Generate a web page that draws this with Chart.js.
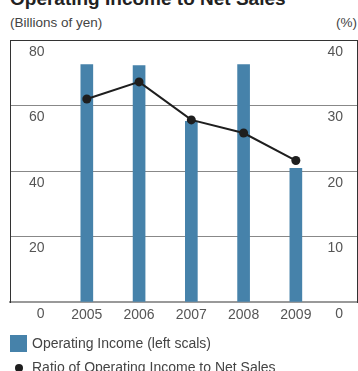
<!DOCTYPE html>
<html>
<head>
<meta charset="utf-8">
<script src="https://cdn.jsdelivr.net/npm/chart.js@4.4.1/dist/chart.umd.min.js"></script>
<style>
  html, body { margin: 0; padding: 0; background: #fff; }
  #wrap { position: relative; width: 358px; height: 371px; overflow: hidden; font-family: "Liberation Sans", Arial, sans-serif; color: #444; }
  #incomeChart { position: absolute; left: 0; top: 0; }
  .title { position: absolute; left: 10px; top: -11px; font-size: 19px; line-height: 19px; font-weight: bold; color: #222; white-space: nowrap; }
  .unit { position: absolute; top: 15px; font-size: 13.5px; line-height: 16px; white-space: nowrap; }
  .unit.left { left: 10px; }
  .unit.right { right: 1px; }
  .legend { position: absolute; left: 10px; top: 335px; font-size: 14px; line-height: 17px; white-space: nowrap; }
  .legend .row { position: relative; height: 17px; padding-left: 22px; }
  .legend .row + .row { margin-top: 7px; }
  .legend .box { position: absolute; left: 0; top: 0; width: 17px; height: 17px; background: #4682aa; }
  .legend .dot { position: absolute; left: 5px; top: 5px; width: 8px; height: 8px; border-radius: 50%; background: #1e1e1e; }
</style>
</head>
<body>
<div id="wrap">
  <div class="title">Operating Income to Net Sales</div>
  <div class="unit left">(Billions of yen)</div>
  <div class="unit right">(%)</div>
  <canvas id="incomeChart" width="358" height="371"></canvas>
  <div class="legend">
    <div class="row"><span class="box"></span>Operating Income (left scals)</div>
    <div class="row"><span class="dot"></span>Ratio of Operating Income to Net Sales</div>
  </div>
</div>
<script>
const years = [2005, 2006, 2007, 2008, 2009];
const operatingIncome = [72.5, 72.2, 55.2, 72.5, 40.8];   // billions of yen
const incomeRatio = [31.0, 33.6, 27.8, 25.8, 21.6];       // %
const incomeTicks = [0, 20, 40, 60, 80];
const ratioTicks = [0, 10, 20, 30, 40];

const BAR = '#4682aa', LINE = '#1e1e1e', TXT = '#555';
const tickFont = { family: '"Liberation Sans", Arial, sans-serif', size: 14 };

const setTicks = list => scale => { scale.ticks = list.map(v => ({ value: v })); };
// value axes draw their labels inside the plot, so they take no room
const flatY = s => { s.width = 0; s.paddingTop = 0; s.paddingBottom = 0; };
const flatX = s => { s.height = 24; s.paddingLeft = 0; s.paddingRight = 0; };

const ctx = document.getElementById('incomeChart').getContext('2d');
new Chart(ctx, {
  data: {
    datasets: [
      { type: 'line', label: 'Ratio of Operating Income to Net Sales', yAxisID: 'y1', order: 0,
        data: years.map((yr, i) => ({ x: yr, y: incomeRatio[i] })),
        borderColor: LINE, borderWidth: 2, tension: 0,
        pointRadius: 4.5, pointBackgroundColor: LINE, pointBorderWidth: 0 },
      { type: 'bar', label: 'Operating Income (left scals)', yAxisID: 'y', order: 1,
        data: years.map((yr, i) => ({ x: yr, y: operatingIncome[i] })),
        backgroundColor: BAR, barThickness: 12 }
    ]
  },
  options: {
    responsive: false, animation: false, devicePixelRatio: 1,
    layout: { autoPadding: false, padding: { top: 40, left: 10, right: 1, bottom: 45 } },
    plugins: { legend: { display: false }, tooltip: { enabled: false } },
    scales: {
      x: {
        type: 'linear', min: 2003.53, max: 2010.17, offset: false,
        afterBuildTicks: setTicks(years),
        afterFit: flatX,
        grid: { display: false, drawTicks: false, offset: false },
        border: { color: '#999', width: 2 },
        ticks: { font: tickFont, color: TXT, padding: 5, callback: v => String(v) }
      },
      y: {
        position: 'left', min: 0, max: 80,
        afterBuildTicks: setTicks(incomeTicks),
        afterFit: flatY,
        grid: { drawTicks: false, lineWidth: 1,
          color: c => c.tick.value === 80 ? '#333' : (c.tick.value === 0 ? 'rgba(0,0,0,0)' : '#888') },
        border: { color: '#333', width: 1 },
        ticks: { mirror: true, crossAlign: 'far', labelOffset: 12, padding: 19, font: tickFont, color: TXT }
      },
      y1: {
        position: 'right', min: 0, max: 40,
        afterBuildTicks: setTicks(ratioTicks),
        afterFit: flatY,
        grid: { drawOnChartArea: false, drawTicks: false },
        border: { color: '#333', width: 1 },
        ticks: { mirror: true, labelOffset: 12, padding: -14, font: tickFont, color: TXT }
      }
    }
  }
});
</script>
</body>
</html>
